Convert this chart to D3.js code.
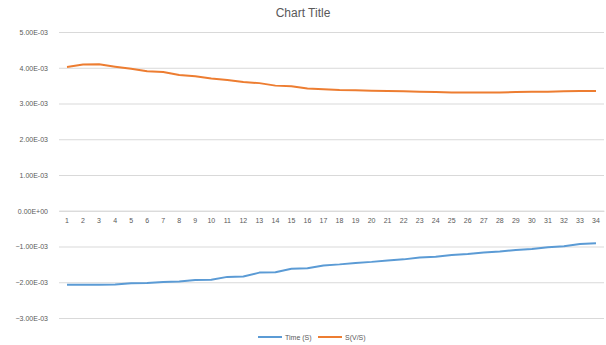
<!DOCTYPE html>
<html><head><meta charset="utf-8">
<script src="https://cdn.jsdelivr.net/npm/d3@7"></script>
<style>body{margin:0;background:#fff}svg{display:block}</style>
</head><body>
<script>
const categories = d3.range(1, 35).map(String);
const seriesNames = ["Time (S)", "S(V/S)"];
const timeValues = [-2.07,-2.07,-2.07,-2.06,-2.03,-2.02,-1.99,-1.98,-1.94,-1.93,-1.85,-1.84,-1.73,-1.72,-1.62,-1.61,-1.53,-1.50,-1.46,-1.43,-1.39,-1.36,-1.31,-1.29,-1.24,-1.21,-1.17,-1.14,-1.10,-1.07,-1.02,-0.99,-0.93,-0.91].map(v => v * 1e-3);
const svValues = [4.02,4.09,4.10,4.03,3.97,3.90,3.88,3.80,3.76,3.70,3.66,3.60,3.57,3.50,3.48,3.42,3.40,3.38,3.37,3.36,3.35,3.34,3.33,3.32,3.31,3.31,3.31,3.31,3.32,3.33,3.33,3.34,3.35,3.35].map(v => v * 1e-3);
const yTicks = [5e-3,4e-3,3e-3,2e-3,1e-3,0,-1e-3,-2e-3,-3e-3];
const colors = ["#5B9BD5", "#ED7D31"];

(function(){
const W = 606, H = 345;
const svg = d3.select("body").append("svg").attr("width", W).attr("height", H);
const pl = 59, pr = 604, pt = 32, pb = 318;
const x = d3.scaleBand().domain(categories).range([pl, pr]);
const y = d3.scaleLinear().domain([-3e-3, 5e-3]).range([pb, pt]);
const font = "'Liberation Sans', Arial, sans-serif";

svg.append("text").attr("x", 303).attr("y", 17).attr("text-anchor", "middle")
  .attr("font-family", font).attr("font-size", 12).attr("fill", "#595959").text("Chart Title");

const yAxis = svg.append("g").attr("transform", `translate(${pl},0)`)
  .call(d3.axisLeft(y).tickValues(yTicks).tickSize(-(pr - pl)).tickPadding(11)
    .tickFormat(d => { const s = d3.format(".2e")(d).replace("e", "E"); return s.replace(/E([+-])(\d)$/, "E$10$2"); }));
yAxis.select(".domain").remove();
yAxis.selectAll(".tick line").attr("stroke", "#D9D9D9").attr("stroke-width", 1);
yAxis.selectAll(".tick text").attr("font-family", font).attr("font-size", 7).attr("fill", "#595959");

const xAxis = svg.append("g").attr("transform", `translate(0,${y(0)})`)
  .call(d3.axisBottom(x).tickSize(0).tickPadding(7));
xAxis.select(".domain").attr("stroke", "#D9D9D9");
xAxis.selectAll(".tick text").attr("font-family", font).attr("font-size", 7).attr("fill", "#595959");

const line = d3.line().x((d, i) => x(categories[i]) + x.bandwidth() / 2).y(d => y(d));
[timeValues, svValues].forEach((vals, k) => {
  svg.append("path").datum(vals).attr("d", line).attr("fill", "none")
    .attr("stroke", colors[k]).attr("stroke-width", 2).attr("stroke-linejoin", "round");
});

const legend = svg.append("g").attr("transform", "translate(258,337)");
const lx = [0, 60];
seriesNames.forEach((n, k) => {
  const g = legend.append("g").attr("transform", `translate(${lx[k]},0)`);
  g.append("line").attr("x1", 0).attr("x2", 24).attr("y1", 0).attr("y2", 0).attr("stroke", colors[k]).attr("stroke-width", 2);
  g.append("text").attr("x", 27).attr("y", 2.5).attr("font-family", font).attr("font-size", 7).attr("fill", "#595959").text(n);
});
})();
</script>
</body></html>
